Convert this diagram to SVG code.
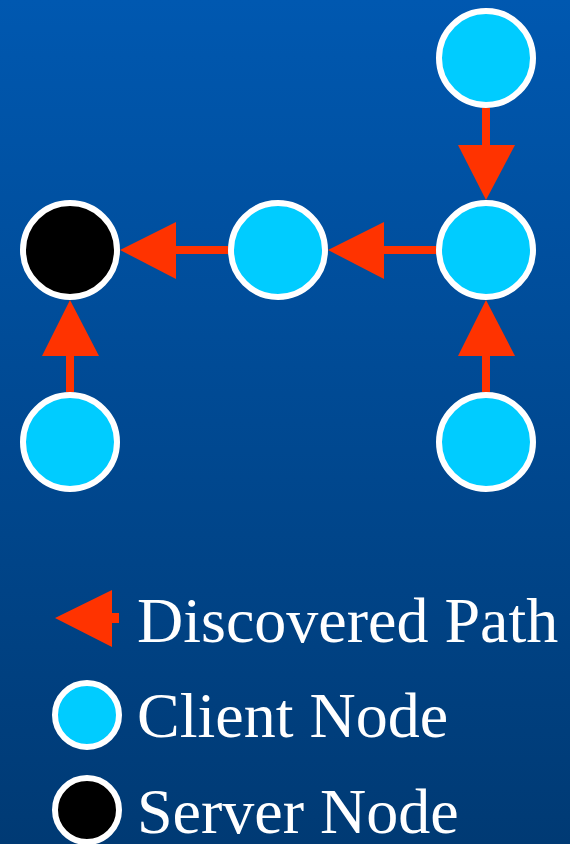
<svg xmlns="http://www.w3.org/2000/svg" width="570" height="844" viewBox="0 0 570 844">
<defs>
<linearGradient id="bg" x1="0" y1="0" x2="0" y2="1">
<stop offset="0" stop-color="#0058B0"/>
<stop offset="1" stop-color="#003A74"/>
</linearGradient>
</defs>
<style>
.client{fill:#00CCFF;stroke:#FFFFFF;stroke-width:6}
.server{fill:#000000;stroke:#FFFFFF;stroke-width:6}
.line{stroke:#FF3300;stroke-width:8;fill:none}
.head{fill:#FF3300}
.label{font-family:"Liberation Serif","Times New Roman",serif;font-size:64px;fill:#FFFFFF}
</style>
<rect x="0" y="0" width="570" height="844" fill="url(#bg)"/>
<g id="connectors">
<line class="line" x1="486" y1="108" x2="486" y2="146"/>
<polygon class="head" points="458,145 515,145 486,200"/>
<line class="line" x1="436" y1="250" x2="383" y2="250"/>
<polygon class="head" points="384,222 384,279 328,250"/>
<line class="line" x1="228" y1="250" x2="175" y2="250"/>
<polygon class="head" points="176,222 176,279 120,250"/>
<line class="line" x1="70" y1="392" x2="70" y2="355"/>
<polygon class="head" points="42,356 99,356 70,300"/>
<line class="line" x1="486" y1="392" x2="486" y2="355"/>
<polygon class="head" points="458,356 515,356 486,300"/>
</g>
<g id="n_top"><circle class="client" cx="486" cy="58" r="47"/></g>
<g id="n_mid_right"><circle class="client" cx="486" cy="250" r="47"/></g>
<g id="n_mid"><circle class="client" cx="278" cy="250" r="47"/></g>
<g id="n_server"><circle class="server" cx="70" cy="250" r="47"/></g>
<g id="n_bottom_left"><circle class="client" cx="70" cy="442" r="47"/></g>
<g id="n_bottom_right"><circle class="client" cx="486" cy="442" r="47"/></g>
<g id="legend">
<g id="legend_path">
<polygon class="head" points="55,618 112,590 112,613 119,613 119,623 112,623 112,647"/>
<text class="label" x="137" y="642">Discovered Path</text>
</g>
<g id="legend_client">
<circle class="client" cx="87" cy="715" r="32" stroke-width="6"/>
<text class="label" x="137" y="737">Client Node</text>
</g>
<g id="legend_server">
<circle class="server" cx="87" cy="810" r="32" stroke-width="6"/>
<text class="label" x="137" y="833">Server Node</text>
</g>
</g>
</svg>
